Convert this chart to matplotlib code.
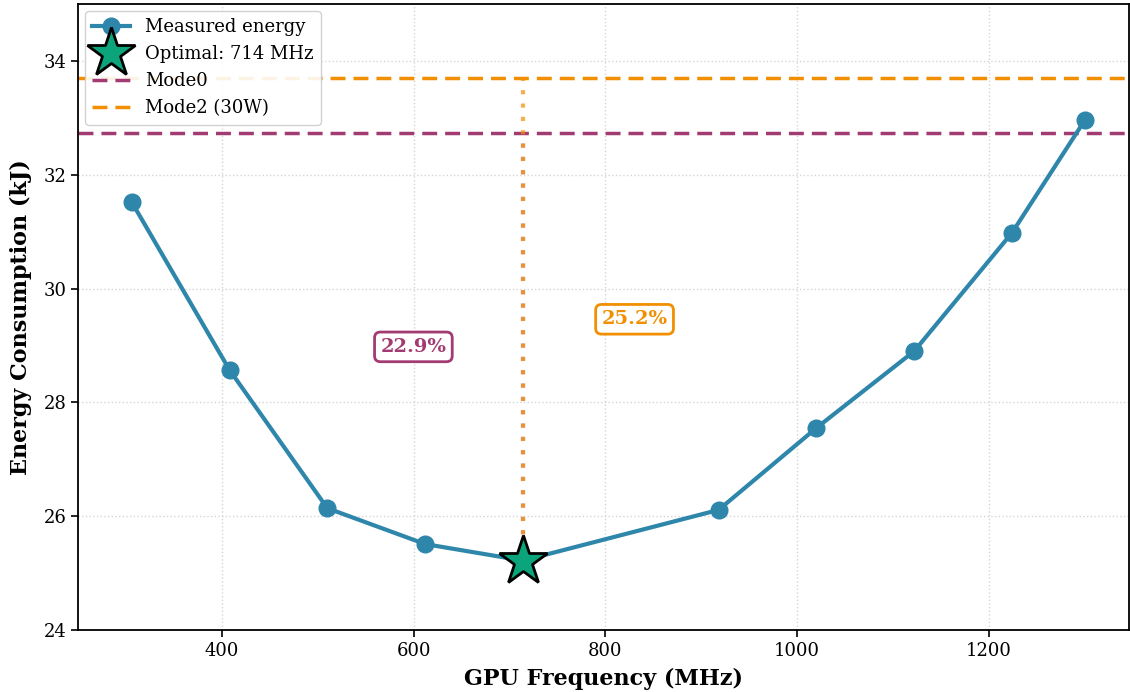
import matplotlib
matplotlib.use("Agg")
import matplotlib.pyplot as plt

plt.rcParams['font.family'] = ['DejaVu Serif']

freqs = [306, 408, 510, 612, 714, 918, 1020, 1122, 1224, 1300]
energy = [31.52, 28.57, 26.14, 25.51, 25.22, 26.11, 27.55, 28.90, 30.98, 32.96]
opt_freq = 714
opt_energy = 25.22
mode0_energy = 32.73
mode2_energy = 33.70

c_line = '#2E86AB'
c_mode0 = '#A23B72'
c_mode2 = '#F18F01'
c_star = '#0BA47B'

fig = plt.figure(figsize=(11.3, 6.92), dpi=100)
ax = fig.add_axes([78/1130, 62/692, (1129-78)/1130, (630-4)/692])

ax.plot(freqs, energy, '-o', color=c_line, lw=3, ms=12, label='Measured energy', zorder=3)
ax.plot([opt_freq], [opt_energy], marker='*', ms=37, color=c_star, mec='black', mew=2,
        ls='none', label=f'Optimal: {opt_freq} MHz', zorder=5)
ax.axhline(mode0_energy, color=c_mode0, lw=2.5, ls=(0, (4.3, 2.3)), label='Mode0')
ax.axhline(mode2_energy, color=c_mode2, lw=2.5, ls=(0, (4.3, 2.3)), label='Mode2 (30W)')

ax.plot([opt_freq, opt_freq], [opt_energy, mode0_energy], ls=(0, (1, 2.2)), lw=3, color=c_mode0, alpha=0.5, zorder=2)
ax.plot([opt_freq, opt_freq], [opt_energy, mode2_energy], ls=(0, (1, 2.2)), lw=3, color=c_mode2, alpha=0.7, zorder=2)

sav0 = (mode0_energy - opt_energy) / mode0_energy * 100
sav2 = (mode2_energy - opt_energy) / mode2_energy * 100
ax.text(opt_freq * 0.84, (mode0_energy + opt_energy) / 2, f'{sav0:.1f}%', color=c_mode0,
        fontsize=14, fontweight='bold', ha='center', va='center',
        bbox=dict(boxstyle='round,pad=0.3', fc='white', ec=c_mode0, lw=2))
ax.text(opt_freq * 1.163, (mode2_energy + opt_energy) / 2, f'{sav2:.1f}%', color=c_mode2,
        fontsize=14, fontweight='bold', ha='center', va='center',
        bbox=dict(boxstyle='round,pad=0.3', fc='white', ec=c_mode2, lw=2))

ax.set_xlim(250, 1346)
ax.set_ylim(24, 35)
ax.set_yticks([24, 26, 28, 30, 32, 34])
ax.set_xticks([400, 600, 800, 1000, 1200])
ax.tick_params(labelsize=13, length=5, width=1.2)
for s in ax.spines.values():
    s.set_linewidth(1.3)
ax.grid(True, ls=':', color='#D5D5D5', lw=1.0)
ax.set_axisbelow(True)
ax.set_xlabel('GPU Frequency (MHz)', fontsize=16, fontweight='bold', labelpad=6)
ax.set_ylabel('Energy Consumption (kJ)', fontsize=16, fontweight='bold', labelpad=8)

leg = ax.legend(loc='upper left', fontsize=13, framealpha=0.9, borderaxespad=0.4,
                handlelength=2.1, labelspacing=0.5)

fig.savefig('out.png', dpi=100)
